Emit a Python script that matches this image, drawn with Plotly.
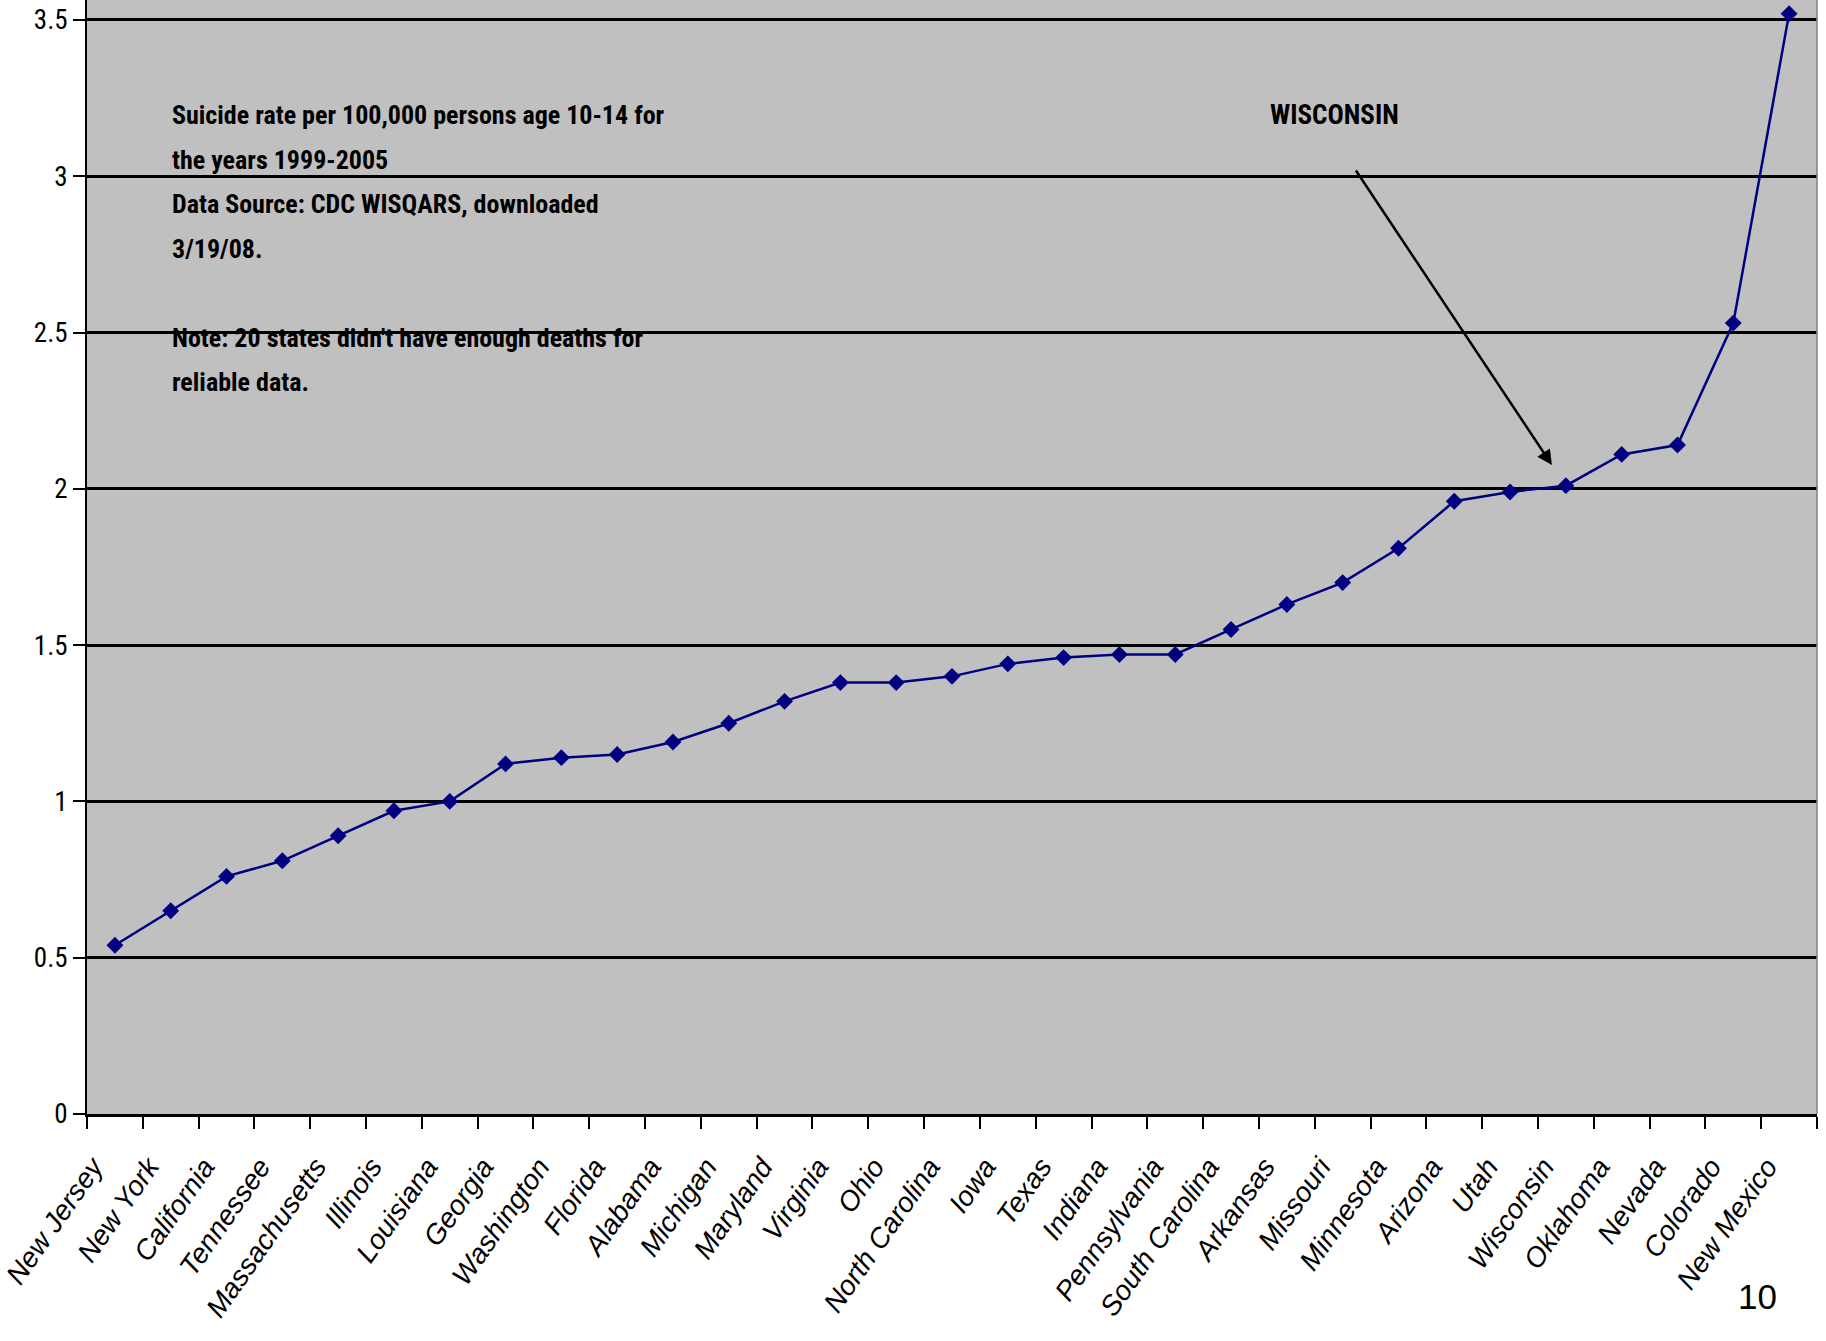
import plotly.graph_objects as go

states = ["New Jersey", "New York", "California", "Tennessee", "Massachusetts",
          "Illinois", "Louisiana", "Georgia", "Washington", "Florida", "Alabama",
          "Michigan", "Maryland", "Virginia", "Ohio", "North Carolina", "Iowa",
          "Texas", "Indiana", "Pennsylvania", "South Carolina", "Arkansas",
          "Missouri", "Minnesota", "Arizona", "Utah", "Wisconsin", "Oklahoma",
          "Nevada", "Colorado", "New Mexico"]
rates = [0.54, 0.65, 0.76, 0.81, 0.89, 0.97, 1.00, 1.12, 1.14, 1.15, 1.19,
         1.25, 1.32, 1.38, 1.38, 1.40, 1.44, 1.46, 1.47, 1.47, 1.55, 1.63,
         1.70, 1.81, 1.96, 1.99, 2.01, 2.11, 2.14, 2.53, 3.52]
y_ticks = [0, 0.5, 1, 1.5, 2, 2.5, 3, 3.5]

note_lines = ["Suicide rate per 100,000 persons age 10-14 for",
              "the years 1999-2005",
              "Data Source: CDC WISQARS, downloaded",
              "3/19/08.",
              "Note: 20 states didn't have enough deaths for",
              "reliable data."]
note_px_y = [115, 160, 204, 249, 338, 382]

W, H = 1826, 1341
L, R, T, B = 87, 9, 0, 227
PH = H - T - B
PW = W - L - R
NARROW = "Roboto Condensed, Liberation Sans Narrow, Arial Narrow, sans-serif"
SANS = "Liberation Sans, Arial, sans-serif"

fig = go.Figure()
fig.add_trace(go.Scatter(
    x=states, y=rates, mode="lines+markers",
    line=dict(color="#000080", width=2.5),
    marker=dict(symbol="diamond", size=13, color="#000080"),
    showlegend=False, cliponaxis=False,
))

annotations = []
for txt, py in zip(note_lines, note_px_y):
    annotations.append(dict(
        text=txt, xref="paper", yref="paper",
        x=(170 - L) / PW, y=(PH - py) / PH,
        xanchor="left", yanchor="middle", showarrow=False,
        font=dict(family=NARROW, size=26, color="black", weight="bold"),
    ))
annotations.append(dict(
    text="WISCONSIN", xref="paper", yref="paper",
    x=(1268 - L) / PW, y=(PH - 115) / PH,
    xanchor="left", yanchor="middle", showarrow=False,
    font=dict(family=NARROW, size=27, color="black", weight="bold"),
))
annotations.append(dict(
    text="", x=25.75, y=2.076, xref="x", yref="y",
    ax=22.22, ay=3.023, axref="x", ayref="y",
    showarrow=True, arrowhead=2, arrowsize=1.2, arrowwidth=2.5,
    arrowcolor="black",
))
annotations.append(dict(
    text="10", xref="paper", yref="paper",
    x=(1757 - L) / PW, y=(PH - 1296) / PH,
    xanchor="center", yanchor="middle", showarrow=False,
    font=dict(family=SANS, size=35, color="black"),
))

fig.update_layout(
    width=W, height=H,
    margin=dict(l=L, r=R, t=T, b=B, pad=0),
    paper_bgcolor="white", plot_bgcolor="#C0C0C0",
    annotations=annotations,
    shapes=[dict(type="line", xref="paper", yref="paper", x0=1, x1=1, y0=0, y1=1,
                 line=dict(color="#808080", width=1.5))],
    xaxis=dict(
        type="category", range=[-0.5, len(states) - 0.5],
        showline=True, linecolor="black", linewidth=3,
        ticks="outside", tickson="boundaries", ticklen=12, tickwidth=2,
        tickcolor="black", showgrid=False, tickangle=-55,
        tickfont=dict(family=SANS, size=28, color="black", style="italic"),
        ticklabelstandoff=22, ticklabelshift=-22, zeroline=False,
    ),
    yaxis=dict(
        range=[0, PH / 312.6], tickvals=y_ticks,
        ticktext=[f"{v:g}" for v in y_ticks],
        showline=True, linecolor="black", linewidth=2,
        ticks="outside", ticklen=12, tickwidth=2, tickcolor="black",
        showgrid=True, gridcolor="black", gridwidth=3,
        zeroline=False,
        tickfont=dict(family=NARROW, size=27, color="black"),
        ticklabelstandoff=0,
    ),
)

fig.write_html("out.html",
               config={"displayModeBar": False},
               post_script="document.body.style.margin='0';document.body.style.overflow='hidden';")
